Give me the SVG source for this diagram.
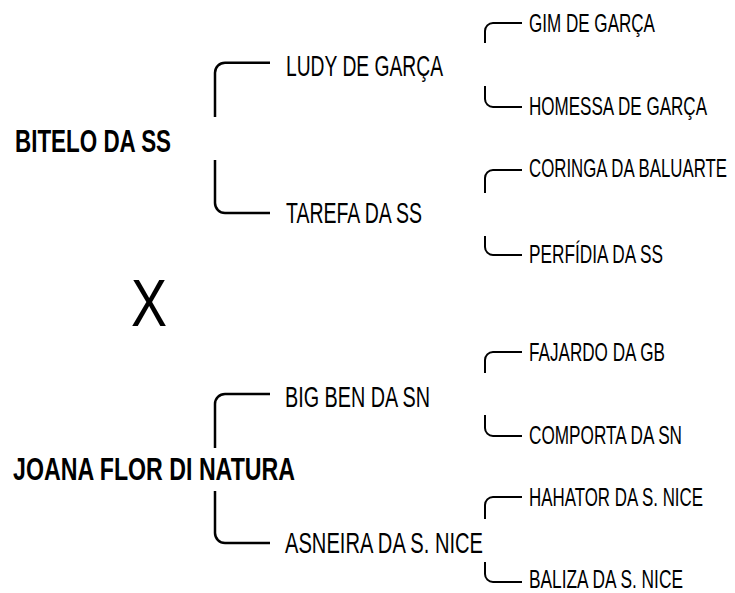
<svg xmlns="http://www.w3.org/2000/svg" width="735" height="593" viewBox="0 0 735 593">
<style>
  text { font-family: "Liberation Sans", Arial, sans-serif; fill: #000; }
  .root { font-size: 31px; font-weight: bold; }
  .l1 { font-size: 29.5px; }
  .l2 { font-size: 25px; }
  .cross { font-size: 67px; }
  .c1 { fill: none; stroke: #000; stroke-width: 2.5; stroke-linecap: butt; }
  .c2 { fill: none; stroke: #000; stroke-width: 2; stroke-linecap: butt; }
</style>
<rect width="735" height="593" fill="#fff"/>
<g id="connectors">
  <path class="c1" d="M215,117 V72.7 A10,10 0 0 1 225,62.7 H270"/>
  <path class="c1" d="M215,160 V203 A10,10 0 0 0 225,213 H270"/>
  <path class="c1" d="M215,448 V404 A10,10 0 0 1 225,394 H270"/>
  <path class="c1" d="M215,491 V533 A10,10 0 0 0 225,543 H270"/>
  <path class="c2" d="M485,43 V31 A8,8 0 0 1 493,23 H522"/>
  <path class="c2" d="M485,86 V99 A8,8 0 0 0 493,107 H522"/>
  <path class="c2" d="M485,193 V178 A8,8 0 0 1 493,170 H522"/>
  <path class="c2" d="M485,236 V247 A8,8 0 0 0 493,255 H522"/>
  <path class="c2" d="M485,373 V360 A8,8 0 0 1 493,352 H522"/>
  <path class="c2" d="M485,415 V428 A8,8 0 0 0 493,436 H522"/>
  <path class="c2" d="M485,519 V505 A8,8 0 0 1 493,497 H522"/>
  <path class="c2" d="M485,562 V574 A8,8 0 0 0 493,582 H522"/>
</g>
<g id="bitelo" transform="translate(15,152) scale(0.72,1)"><text class="root" x="0" y="0" textLength="216.7" lengthAdjust="spacingAndGlyphs">BITELO DA SS</text></g>
<g id="joana" transform="translate(13,480) scale(0.72,1)"><text class="root" x="0" y="0" textLength="391.7" lengthAdjust="spacingAndGlyphs">JOANA FLOR DI NATURA</text></g>
<g id="cross" transform="translate(131,326) scale(0.8,1)"><text class="cross" x="0" y="0" textLength="45" lengthAdjust="spacingAndGlyphs">X</text></g>
<g id="ludy" transform="translate(286,76) scale(0.67,1)"><text class="l1" x="0" y="0" textLength="234.3" lengthAdjust="spacingAndGlyphs">LUDY DE GARÇA</text></g>
<g id="tarefa" transform="translate(286,223) scale(0.67,1)"><text class="l1" x="0" y="0" textLength="203" lengthAdjust="spacingAndGlyphs">TAREFA DA SS</text></g>
<g id="bigben" transform="translate(285,407) scale(0.67,1)"><text class="l1" x="0" y="0" textLength="216.4" lengthAdjust="spacingAndGlyphs">BIG BEN DA SN</text></g>
<g id="asneira" transform="translate(285,553) scale(0.67,1)"><text class="l1" x="0" y="0" textLength="295.5" lengthAdjust="spacingAndGlyphs">ASNEIRA DA S. NICE</text></g>
<g id="gim" transform="translate(529,32) scale(0.7,1)"><text class="l2" x="0" y="0" textLength="180" lengthAdjust="spacingAndGlyphs">GIM DE GARÇA</text></g>
<g id="homessa" transform="translate(529,115) scale(0.7,1)"><text class="l2" x="0" y="0" textLength="254.3" lengthAdjust="spacingAndGlyphs">HOMESSA DE GARÇA</text></g>
<g id="coringa" transform="translate(529,177) scale(0.7,1)"><text class="l2" x="0" y="0" textLength="282.9" lengthAdjust="spacingAndGlyphs">CORINGA DA BALUARTE</text></g>
<g id="perfidia" transform="translate(529,263) scale(0.7,1)"><text class="l2" x="0" y="0" textLength="191.4" lengthAdjust="spacingAndGlyphs">PERFÍDIA DA SS</text></g>
<g id="fajardo" transform="translate(529,361) scale(0.7,1)"><text class="l2" x="0" y="0" textLength="194.3" lengthAdjust="spacingAndGlyphs">FAJARDO DA GB</text></g>
<g id="comporta" transform="translate(529,444) scale(0.7,1)"><text class="l2" x="0" y="0" textLength="218.6" lengthAdjust="spacingAndGlyphs">COMPORTA DA SN</text></g>
<g id="hahator" transform="translate(529,506) scale(0.7,1)"><text class="l2" x="0" y="0" textLength="248.6" lengthAdjust="spacingAndGlyphs">HAHATOR DA S. NICE</text></g>
<g id="baliza" transform="translate(529,588) scale(0.7,1)"><text class="l2" x="0" y="0" textLength="220" lengthAdjust="spacingAndGlyphs">BALIZA DA S. NICE</text></g>
</svg>
